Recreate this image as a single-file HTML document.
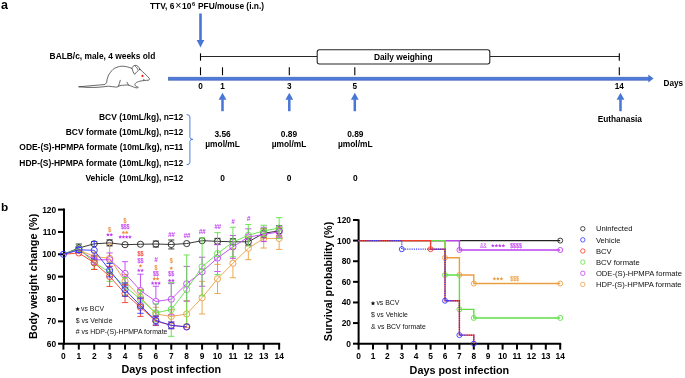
<!DOCTYPE html>
<html><head><meta charset="utf-8"><style>
html,body{margin:0;padding:0;background:#fff;}
body{width:685px;height:378px;overflow:hidden;}
svg{display:block;font-family:"Liberation Sans", sans-serif;will-change:transform;}
</style></head><body>
<svg width="685" height="378" viewBox="0 0 685 378">
<rect width="685" height="378" fill="#fff"/>
<text x="1.0" y="9.0" font-size="12.5" font-weight="bold" text-anchor="start" fill="#000" >a</text>
<text x="150" y="8.8" font-size="8.4" font-weight="bold">TTV, 6<tspan font-weight="normal" font-size="10.5" dx="0.9">×</tspan><tspan dx="0.6">10</tspan><tspan font-size="5.6" dy="-3" dx="0.6">6</tspan><tspan dy="3" dx="0.6"> PFU/mouse (i.n.)</tspan></text>
<rect x="199.2" y="13.5" width="2.6" height="27.0" fill="#4876d6"/>
<polygon points="196.7,40.0 204.3,40.0 200.5,47.4" fill="#4876d6"/>
<text x="49.6" y="59.3" font-size="8.4" font-weight="bold" text-anchor="start" fill="#000" >BALB/c, male, 4 weeks old</text>
<g fill="none" stroke="#2a2a2a" stroke-width="0.7" stroke-linejoin="round" stroke-linecap="round"><path fill="#fff" d="M79,86.8 C88,86 97,85.2 104,84.6 C105.5,84.2 106.3,83.5 106.6,82.6 C107,79 108,75 110.2,72.7 C112,70 114,68.2 116.1,67.6 C119,66.5 121,66.2 122,66.2 C125,66.2 128,66.8 132.1,68.5 C134,69.3 137,69 139.8,69.2 C143,72 147,75.5 149.6,78.8 C149.4,79.6 149,80.2 148.3,80.3 C146,80.2 143,80.6 139.8,81.2 C138,81.8 136.8,82.3 136.2,82.6 C135.3,83.5 134.7,84.3 134.8,84.8 C135.2,85.6 135.6,86.2 136.3,86.5 C137.2,86.8 138.2,87 138.3,87.3 C138,87.9 137,88 136,87.8 C135,87.5 134,87.2 133.5,87 C131,86 129.5,85.3 127.9,85 C125,85 123,85.2 121.2,85.4 L118.8,86 C118,86.5 117.5,86.9 117,87.1 C114,86.9 111,86.6 108.5,86.2 C104,86.8 100,87.2 96,87.4 C90,87.6 84,87.4 79,86.8 Z"/><path fill="#fff" d="M139.8,69.3 C138,70.5 136,72.5 134.7,74.4 C133.5,73 132.6,71 132.1,68.5 C132,67 133.5,65.6 135.1,65.4 C137,65.1 139,66.5 139.8,69.3 Z"/><path d="M135.3,66 C136.5,67 137.2,68 137.6,69.3"/><path d="M127,82.3 C127.5,83.3 128,84.2 128.5,85"/><path d="M120.3,80.3 C119.8,82.5 119,84.5 118.4,86.2"/><path d="M143.8,79.3 L144,80.3"/></g>
<circle cx="142.5" cy="75.9" r="1.1" fill="#ff1a1a"/>
<g stroke="#262626" stroke-width="1.1" fill="none"><line x1="200.5" y1="56.5" x2="317" y2="56.5"/><line x1="490" y1="56.5" x2="619.3" y2="56.5"/><rect x="317.2" y="49.8" width="172.6" height="14.2" rx="2.2" fill="#fff"/></g>
<g stroke="#000" stroke-width="1.1"><line x1="200.5" y1="53.3" x2="200.5" y2="60.7"/><line x1="619.3" y1="53.3" x2="619.3" y2="60.7"/></g>
<text x="403.2" y="59.5" font-size="8.4" font-weight="bold" text-anchor="middle" fill="#000" >Daily weighing</text>
<line x1="200.5" y1="67.3" x2="200.5" y2="75.2" stroke="#000" stroke-width="1.1"/>
<text x="200.5" y="89.4" font-size="8.2" font-weight="bold" text-anchor="middle" fill="#000" >0</text>
<line x1="222.5" y1="67.3" x2="222.5" y2="75.2" stroke="#000" stroke-width="1.1"/>
<text x="222.5" y="89.4" font-size="8.2" font-weight="bold" text-anchor="middle" fill="#000" >1</text>
<line x1="289.3" y1="67.3" x2="289.3" y2="75.2" stroke="#000" stroke-width="1.1"/>
<text x="289.3" y="89.4" font-size="8.2" font-weight="bold" text-anchor="middle" fill="#000" >3</text>
<line x1="354.8" y1="67.3" x2="354.8" y2="75.2" stroke="#000" stroke-width="1.1"/>
<text x="354.8" y="89.4" font-size="8.2" font-weight="bold" text-anchor="middle" fill="#000" >5</text>
<line x1="619.3" y1="67.3" x2="619.3" y2="75.2" stroke="#000" stroke-width="1.1"/>
<text x="619.3" y="89.4" font-size="8.2" font-weight="bold" text-anchor="middle" fill="#000" >14</text>
<rect x="168.4" y="77.2" width="480.6" height="3.0" fill="#4f7bdb" stroke="#3b5cab" stroke-width="0.6"/>
<polygon points="648.3,74.6 653.6,78.6 648.3,82.6" fill="#4876d6"/>
<text x="663.6" y="86.2" font-size="8.2" font-weight="bold" text-anchor="start" fill="#000" >Days</text>
<rect x="221.25" y="99.2" width="2.5" height="12.0" fill="#4876d6"/>
<polygon points="218.6,99.7 226.4,99.7 222.5,92.7" fill="#4876d6"/>
<rect x="288.05" y="99.2" width="2.5" height="12.0" fill="#4876d6"/>
<polygon points="285.40000000000003,99.7 293.2,99.7 289.3,92.7" fill="#4876d6"/>
<rect x="353.55" y="99.2" width="2.5" height="12.0" fill="#4876d6"/>
<polygon points="350.90000000000003,99.7 358.7,99.7 354.8,92.7" fill="#4876d6"/>
<rect x="619.25" y="99.2" width="2.5" height="12.0" fill="#4876d6"/>
<polygon points="616.6,99.7 624.4,99.7 620.5,92.7" fill="#4876d6"/>
<text x="619.8" y="121.8" font-size="8.3" font-weight="bold" text-anchor="middle" fill="#000" >Euthanasia</text>
<text x="183.2" y="120.0" font-size="8.45" font-weight="bold" text-anchor="end" fill="#000" >BCV (10mL/kg), n=12</text>
<text x="183.2" y="135.1" font-size="8.45" font-weight="bold" text-anchor="end" fill="#000" >BCV formate (10mL/kg), n=12</text>
<text x="183.2" y="150.4" font-size="8.45" font-weight="bold" text-anchor="end" fill="#000" >ODE-(S)-HPMPA formate (10mL/kg), n=11</text>
<text x="183.2" y="165.5" font-size="8.45" font-weight="bold" text-anchor="end" fill="#000" >HDP-(S)-HPMPA formate (10mL/kg), n=12</text>
<text x="183.2" y="180.5" font-size="8.45" font-weight="bold" text-anchor="end" fill="#000" >Vehicle&#160; (10mL/kg), n=12</text>
<path d="M186.6,114.6 Q189.9,114.6 189.9,117 L189.9,137.2 Q189.9,139.3 192.8,139.3 Q189.9,139.3 189.9,141.4 L189.9,162.3 Q189.9,164.7 186.6,164.7" stroke="#4876d6" stroke-width="0.95" fill="none"/>
<text x="222.6" y="137.2" font-size="8.4" font-weight="bold" text-anchor="middle" fill="#000" >3.56</text>
<text x="222.6" y="147.4" font-size="8.4" font-weight="bold" text-anchor="middle" fill="#000" >µmol/mL</text>
<text x="222.6" y="180.5" font-size="8.4" font-weight="bold" text-anchor="middle" fill="#000" >0</text>
<text x="289.0" y="137.2" font-size="8.4" font-weight="bold" text-anchor="middle" fill="#000" >0.89</text>
<text x="289.0" y="147.4" font-size="8.4" font-weight="bold" text-anchor="middle" fill="#000" >µmol/mL</text>
<text x="289.0" y="180.5" font-size="8.4" font-weight="bold" text-anchor="middle" fill="#000" >0</text>
<text x="355.3" y="137.2" font-size="8.4" font-weight="bold" text-anchor="middle" fill="#000" >0.89</text>
<text x="355.3" y="147.4" font-size="8.4" font-weight="bold" text-anchor="middle" fill="#000" >µmol/mL</text>
<text x="355.3" y="180.5" font-size="8.4" font-weight="bold" text-anchor="middle" fill="#000" >0</text>
<text x="1.0" y="211.4" font-size="11.8" font-weight="bold" text-anchor="start" fill="#000" >b</text>
<g stroke="#000" stroke-width="2" fill="none">
<line x1="64" y1="208.6" x2="64" y2="344.7"/>
<line x1="63" y1="343.7" x2="280.14" y2="343.7"/>
<line x1="58" y1="209.60" x2="64" y2="209.60"/>
<line x1="58" y1="231.95" x2="64" y2="231.95"/>
<line x1="58" y1="254.30" x2="64" y2="254.30"/>
<line x1="58" y1="276.65" x2="64" y2="276.65"/>
<line x1="58" y1="299.00" x2="64" y2="299.00"/>
<line x1="58" y1="321.35" x2="64" y2="321.35"/>
<line x1="58" y1="343.70" x2="64" y2="343.70"/>
<line x1="63.40" y1="343.7" x2="63.40" y2="349.6"/>
<line x1="78.81" y1="343.7" x2="78.81" y2="349.6"/>
<line x1="94.22" y1="343.7" x2="94.22" y2="349.6"/>
<line x1="109.63" y1="343.7" x2="109.63" y2="349.6"/>
<line x1="125.04" y1="343.7" x2="125.04" y2="349.6"/>
<line x1="140.45" y1="343.7" x2="140.45" y2="349.6"/>
<line x1="155.86" y1="343.7" x2="155.86" y2="349.6"/>
<line x1="171.27" y1="343.7" x2="171.27" y2="349.6"/>
<line x1="186.68" y1="343.7" x2="186.68" y2="349.6"/>
<line x1="202.09" y1="343.7" x2="202.09" y2="349.6"/>
<line x1="217.50" y1="343.7" x2="217.50" y2="349.6"/>
<line x1="232.91" y1="343.7" x2="232.91" y2="349.6"/>
<line x1="248.32" y1="343.7" x2="248.32" y2="349.6"/>
<line x1="263.73" y1="343.7" x2="263.73" y2="349.6"/>
<line x1="279.14" y1="343.7" x2="279.14" y2="349.6"/>
</g>
<text x="56.2" y="212.60000000000002" font-size="8.4" font-weight="bold" text-anchor="end" fill="#000" >120</text>
<text x="56.2" y="234.95000000000002" font-size="8.4" font-weight="bold" text-anchor="end" fill="#000" >110</text>
<text x="56.2" y="257.3" font-size="8.4" font-weight="bold" text-anchor="end" fill="#000" >100</text>
<text x="56.2" y="279.65000000000003" font-size="8.4" font-weight="bold" text-anchor="end" fill="#000" >90</text>
<text x="56.2" y="302.0" font-size="8.4" font-weight="bold" text-anchor="end" fill="#000" >80</text>
<text x="56.2" y="324.35" font-size="8.4" font-weight="bold" text-anchor="end" fill="#000" >70</text>
<text x="56.2" y="346.7" font-size="8.4" font-weight="bold" text-anchor="end" fill="#000" >60</text>
<text x="63.4" y="359.2" font-size="8.4" font-weight="bold" text-anchor="middle" fill="#000" >0</text>
<text x="78.81" y="359.2" font-size="8.4" font-weight="bold" text-anchor="middle" fill="#000" >1</text>
<text x="94.22" y="359.2" font-size="8.4" font-weight="bold" text-anchor="middle" fill="#000" >2</text>
<text x="109.63" y="359.2" font-size="8.4" font-weight="bold" text-anchor="middle" fill="#000" >3</text>
<text x="125.03999999999999" y="359.2" font-size="8.4" font-weight="bold" text-anchor="middle" fill="#000" >4</text>
<text x="140.45" y="359.2" font-size="8.4" font-weight="bold" text-anchor="middle" fill="#000" >5</text>
<text x="155.86" y="359.2" font-size="8.4" font-weight="bold" text-anchor="middle" fill="#000" >6</text>
<text x="171.27" y="359.2" font-size="8.4" font-weight="bold" text-anchor="middle" fill="#000" >7</text>
<text x="186.68" y="359.2" font-size="8.4" font-weight="bold" text-anchor="middle" fill="#000" >8</text>
<text x="202.09" y="359.2" font-size="8.4" font-weight="bold" text-anchor="middle" fill="#000" >9</text>
<text x="217.5" y="359.2" font-size="8.4" font-weight="bold" text-anchor="middle" fill="#000" >10</text>
<text x="232.91" y="359.2" font-size="8.4" font-weight="bold" text-anchor="middle" fill="#000" >11</text>
<text x="248.32000000000002" y="359.2" font-size="8.4" font-weight="bold" text-anchor="middle" fill="#000" >12</text>
<text x="263.73" y="359.2" font-size="8.4" font-weight="bold" text-anchor="middle" fill="#000" >13</text>
<text x="279.14" y="359.2" font-size="8.4" font-weight="bold" text-anchor="middle" fill="#000" >14</text>
<text x="0" y="0" font-size="10.85" font-weight="bold" text-anchor="middle" transform="translate(36.9,276.3) rotate(-90)">Body weight change (%)</text>
<text x="171.3" y="372.9" font-size="10.8" font-weight="bold" text-anchor="middle" fill="#000" >Days post infection</text>
<g fill="none" stroke-width="0.9">
<path d="M75.71,244.02h6.2M75.71,252.06h6.2M78.81,244.02V244.94M78.81,251.14V252.06" stroke="#222222"/>
<path d="M106.53,239.88h6.2M106.53,245.92h6.2" stroke="#222222"/>
<path d="M152.76,241.00h6.2M152.76,247.04h6.2" stroke="#222222"/>
<path d="M168.17,240.00h6.2M168.17,248.94h6.2M171.27,240.00V241.37M171.27,247.57V248.94" stroke="#222222"/>
<path d="M214.40,238.32h6.2M214.40,244.35h6.2" stroke="#222222"/>
<path d="M229.81,238.77h6.2M229.81,244.80h6.2" stroke="#222222"/>
<path d="M245.22,238.43h6.2M245.22,245.14h6.2M248.32,238.43V238.68M248.32,244.88V245.14" stroke="#222222"/>
<path d="M260.63,228.82h6.2M260.63,237.76h6.2M263.73,228.82V230.19M263.73,236.39V237.76" stroke="#222222"/>
<path d="M276.04,225.69h6.2M276.04,235.97h6.2M279.14,225.69V227.73M279.14,233.93V235.97" stroke="#222222"/>
<polyline points="63.40,254.30 78.81,248.04 94.22,243.80 109.63,242.90 125.04,244.69 140.45,244.24 155.86,244.02 171.27,244.47 186.68,243.57 202.09,240.67 217.50,241.34 232.91,241.78 248.32,241.78 263.73,233.29 279.14,230.83" stroke="#222222"/>
<circle cx="78.81" cy="248.04" r="3.1" stroke="#222222"/>
<circle cx="94.22" cy="243.80" r="3.1" stroke="#222222"/>
<circle cx="109.63" cy="242.90" r="3.1" stroke="#222222"/>
<circle cx="125.04" cy="244.69" r="3.1" stroke="#222222"/>
<circle cx="140.45" cy="244.24" r="3.1" stroke="#222222"/>
<circle cx="155.86" cy="244.02" r="3.1" stroke="#222222"/>
<circle cx="171.27" cy="244.47" r="3.1" stroke="#222222"/>
<circle cx="186.68" cy="243.57" r="3.1" stroke="#222222"/>
<circle cx="202.09" cy="240.67" r="3.1" stroke="#222222"/>
<circle cx="217.50" cy="241.34" r="3.1" stroke="#222222"/>
<circle cx="232.91" cy="241.78" r="3.1" stroke="#222222"/>
<circle cx="248.32" cy="241.78" r="3.1" stroke="#222222"/>
<circle cx="263.73" cy="233.29" r="3.1" stroke="#222222"/>
<circle cx="279.14" cy="230.83" r="3.1" stroke="#222222"/>
<path d="M75.71,247.15h6.2M75.71,252.51h6.2" stroke="#eb9e42"/>
<path d="M91.12,252.06h6.2M91.12,261.00h6.2M94.22,252.06V253.44M94.22,259.64V261.00" stroke="#eb9e42"/>
<path d="M106.53,244.24h6.2M106.53,272.40h6.2M109.63,244.24V255.22M109.63,261.42V272.40" stroke="#eb9e42"/>
<path d="M121.94,274.42h6.2M121.94,287.82h6.2M125.04,274.42V278.02M125.04,284.22V287.82" stroke="#eb9e42"/>
<path d="M137.35,289.39h6.2M137.35,305.03h6.2M140.45,289.39V294.11M140.45,300.31V305.03" stroke="#eb9e42"/>
<path d="M152.76,307.27h6.2M152.76,320.68h6.2M155.86,307.27V310.87M155.86,317.07V320.68" stroke="#eb9e42"/>
<path d="M168.17,309.73h6.2M168.17,323.14h6.2M171.27,309.73V313.33M171.27,319.53V323.14" stroke="#eb9e42"/>
<path d="M183.58,300.56h6.2M183.58,327.38h6.2M186.68,300.56V310.87M186.68,317.07V327.38" stroke="#eb9e42"/>
<path d="M198.99,281.34h6.2M198.99,313.97h6.2M202.09,281.34V294.56M202.09,300.76V313.97" stroke="#eb9e42"/>
<path d="M214.40,264.36h6.2M214.40,293.41h6.2M217.50,264.36V275.78M217.50,281.99V293.41" stroke="#eb9e42"/>
<path d="M229.81,248.71h6.2M229.81,277.77h6.2M232.91,248.71V260.14M232.91,266.34V277.77" stroke="#eb9e42"/>
<path d="M245.22,236.87h6.2M245.22,259.66h6.2M248.32,236.87V245.17M248.32,251.37V259.66" stroke="#eb9e42"/>
<path d="M260.63,228.82h6.2M260.63,248.04h6.2M263.73,228.82V235.33M263.73,241.53V248.04" stroke="#eb9e42"/>
<path d="M276.04,227.48h6.2M276.04,249.38h6.2M279.14,227.48V235.33M279.14,241.53V249.38" stroke="#eb9e42"/>
<polyline points="63.40,254.30 78.81,249.83 94.22,256.54 109.63,258.32 125.04,281.12 140.45,297.21 155.86,313.97 171.27,316.43 186.68,313.97 202.09,297.66 217.50,278.88 232.91,263.24 248.32,248.27 263.73,238.43 279.14,238.43" stroke="#eb9e42"/>
<circle cx="78.81" cy="249.83" r="3.1" stroke="#eb9e42"/>
<circle cx="94.22" cy="256.54" r="3.1" stroke="#eb9e42"/>
<circle cx="109.63" cy="258.32" r="3.1" stroke="#eb9e42"/>
<circle cx="125.04" cy="281.12" r="3.1" stroke="#eb9e42"/>
<circle cx="140.45" cy="297.21" r="3.1" stroke="#eb9e42"/>
<circle cx="155.86" cy="313.97" r="3.1" stroke="#eb9e42"/>
<circle cx="171.27" cy="316.43" r="3.1" stroke="#eb9e42"/>
<circle cx="186.68" cy="313.97" r="3.1" stroke="#eb9e42"/>
<circle cx="202.09" cy="297.66" r="3.1" stroke="#eb9e42"/>
<circle cx="217.50" cy="278.88" r="3.1" stroke="#eb9e42"/>
<circle cx="232.91" cy="263.24" r="3.1" stroke="#eb9e42"/>
<circle cx="248.32" cy="248.27" r="3.1" stroke="#eb9e42"/>
<circle cx="263.73" cy="238.43" r="3.1" stroke="#eb9e42"/>
<circle cx="279.14" cy="238.43" r="3.1" stroke="#eb9e42"/>
<path d="M91.12,255.42h6.2M91.12,264.36h6.2M94.22,255.42V256.79M94.22,262.99V264.36" stroke="#c040f2"/>
<path d="M106.53,252.96h6.2M106.53,266.37h6.2M109.63,252.96V256.56M109.63,262.76V266.37" stroke="#c040f2"/>
<path d="M121.94,261.68h6.2M121.94,285.37h6.2M125.04,261.68V270.42M125.04,276.62V285.37" stroke="#c040f2"/>
<path d="M137.35,274.19h6.2M137.35,306.82h6.2M140.45,274.19V287.41M140.45,293.61V306.82" stroke="#c040f2"/>
<path d="M152.76,286.26h6.2M152.76,316.66h6.2M155.86,286.26V298.36M155.86,304.56V316.66" stroke="#c040f2"/>
<path d="M168.17,283.58h6.2M168.17,314.87h6.2M171.27,283.58V296.12M171.27,302.32V314.87" stroke="#c040f2"/>
<path d="M183.58,266.37h6.2M183.58,301.24h6.2M186.68,266.37V280.70M186.68,286.90V301.24" stroke="#c040f2"/>
<path d="M198.99,257.21h6.2M198.99,286.26h6.2M202.09,257.21V268.63M202.09,274.83V286.26" stroke="#c040f2"/>
<path d="M214.40,244.69h6.2M214.40,271.51h6.2M217.50,244.69V255.00M217.50,261.20V271.51" stroke="#c040f2"/>
<path d="M229.81,235.53h6.2M229.81,258.32h6.2M232.91,235.53V243.82M232.91,250.02V258.32" stroke="#c040f2"/>
<path d="M245.22,228.82h6.2M245.22,245.36h6.2M248.32,228.82V233.99M248.32,240.19V245.36" stroke="#c040f2"/>
<path d="M260.63,227.26h6.2M260.63,241.56h6.2M263.73,227.26V231.31M263.73,237.51V241.56" stroke="#c040f2"/>
<path d="M276.04,226.14h6.2M276.04,237.76h6.2M279.14,226.14V228.85M279.14,235.05V237.76" stroke="#c040f2"/>
<polyline points="63.40,254.30 78.81,249.83 94.22,259.89 109.63,259.66 125.04,273.52 140.45,290.51 155.86,301.46 171.27,299.22 186.68,283.80 202.09,271.73 217.50,258.10 232.91,246.92 248.32,237.09 263.73,234.41 279.14,231.95" stroke="#c040f2"/>
<circle cx="78.81" cy="249.83" r="3.1" stroke="#c040f2"/>
<circle cx="94.22" cy="259.89" r="3.1" stroke="#c040f2"/>
<circle cx="109.63" cy="259.66" r="3.1" stroke="#c040f2"/>
<circle cx="125.04" cy="273.52" r="3.1" stroke="#c040f2"/>
<circle cx="140.45" cy="290.51" r="3.1" stroke="#c040f2"/>
<circle cx="155.86" cy="301.46" r="3.1" stroke="#c040f2"/>
<circle cx="171.27" cy="299.22" r="3.1" stroke="#c040f2"/>
<circle cx="186.68" cy="283.80" r="3.1" stroke="#c040f2"/>
<circle cx="202.09" cy="271.73" r="3.1" stroke="#c040f2"/>
<circle cx="217.50" cy="258.10" r="3.1" stroke="#c040f2"/>
<circle cx="232.91" cy="246.92" r="3.1" stroke="#c040f2"/>
<circle cx="248.32" cy="237.09" r="3.1" stroke="#c040f2"/>
<circle cx="263.73" cy="234.41" r="3.1" stroke="#c040f2"/>
<circle cx="279.14" cy="231.95" r="3.1" stroke="#c040f2"/>
<path d="M91.12,255.86h6.2M91.12,269.27h6.2M94.22,255.86V259.47M94.22,265.67V269.27" stroke="#5fe045"/>
<path d="M106.53,263.02h6.2M106.53,281.34h6.2M109.63,263.02V269.08M109.63,275.28V281.34" stroke="#5fe045"/>
<path d="M121.94,277.54h6.2M121.94,295.42h6.2M125.04,277.54V283.38M125.04,289.58V295.42" stroke="#5fe045"/>
<path d="M137.35,290.28h6.2M137.35,308.16h6.2M140.45,290.28V296.12M140.45,302.32V308.16" stroke="#5fe045"/>
<path d="M152.76,303.92h6.2M152.76,321.80h6.2M155.86,303.92V309.76M155.86,315.96V321.80" stroke="#5fe045"/>
<path d="M168.17,282.68h6.2M168.17,336.32h6.2M171.27,282.68V306.40M171.27,312.60V336.32" stroke="#5fe045"/>
<path d="M183.58,254.97h6.2M183.58,324.26h6.2M186.68,254.97V286.51M186.68,292.71V324.26" stroke="#5fe045"/>
<path d="M198.99,237.76h6.2M198.99,295.87h6.2M202.09,237.76V263.72M202.09,269.92V295.87" stroke="#5fe045"/>
<path d="M214.40,232.62h6.2M214.40,274.64h6.2M217.50,232.62V250.53M217.50,256.73V274.64" stroke="#5fe045"/>
<path d="M229.81,227.26h6.2M229.81,256.76h6.2M232.91,227.26V238.91M232.91,245.11V256.76" stroke="#5fe045"/>
<path d="M245.22,224.57h6.2M245.22,246.03h6.2M248.32,224.57V232.20M248.32,238.40V246.03" stroke="#5fe045"/>
<path d="M260.63,225.25h6.2M260.63,236.42h6.2M263.73,225.25V227.73M263.73,233.93V236.42" stroke="#5fe045"/>
<path d="M276.04,217.65h6.2M276.04,238.66h6.2M279.14,217.65V225.05M279.14,231.25V238.66" stroke="#5fe045"/>
<polyline points="63.40,254.30 78.81,248.71 94.22,262.57 109.63,272.18 125.04,286.48 140.45,299.22 155.86,312.86 171.27,309.50 186.68,289.61 202.09,266.82 217.50,253.63 232.91,242.01 248.32,235.30 263.73,230.83 279.14,228.15" stroke="#5fe045"/>
<circle cx="78.81" cy="248.71" r="3.1" stroke="#5fe045"/>
<circle cx="94.22" cy="262.57" r="3.1" stroke="#5fe045"/>
<circle cx="109.63" cy="272.18" r="3.1" stroke="#5fe045"/>
<circle cx="125.04" cy="286.48" r="3.1" stroke="#5fe045"/>
<circle cx="140.45" cy="299.22" r="3.1" stroke="#5fe045"/>
<circle cx="155.86" cy="312.86" r="3.1" stroke="#5fe045"/>
<circle cx="171.27" cy="309.50" r="3.1" stroke="#5fe045"/>
<circle cx="186.68" cy="289.61" r="3.1" stroke="#5fe045"/>
<circle cx="202.09" cy="266.82" r="3.1" stroke="#5fe045"/>
<circle cx="217.50" cy="253.63" r="3.1" stroke="#5fe045"/>
<circle cx="232.91" cy="242.01" r="3.1" stroke="#5fe045"/>
<circle cx="248.32" cy="235.30" r="3.1" stroke="#5fe045"/>
<circle cx="263.73" cy="230.83" r="3.1" stroke="#5fe045"/>
<circle cx="279.14" cy="228.15" r="3.1" stroke="#5fe045"/>
<path d="M91.12,256.09h6.2M91.12,269.50h6.2M94.22,256.09V259.69M94.22,265.89V269.50" stroke="#f23c2c"/>
<path d="M106.53,266.37h6.2M106.53,286.48h6.2M109.63,266.37V273.33M109.63,279.53V286.48" stroke="#f23c2c"/>
<path d="M121.94,284.70h6.2M121.94,302.58h6.2M125.04,284.70V290.54M125.04,296.74V302.58" stroke="#f23c2c"/>
<path d="M137.35,298.11h6.2M137.35,316.43h6.2M140.45,298.11V304.17M140.45,310.37V316.43" stroke="#f23c2c"/>
<path d="M152.76,316.66h6.2M152.76,325.60h6.2M155.86,316.66V318.03M155.86,324.23V325.60" stroke="#f23c2c"/>
<path d="M168.17,322.02h6.2M168.17,328.73h6.2M171.27,322.02V322.27M171.27,328.47V328.73" stroke="#f23c2c"/>
<polyline points="63.40,254.30 78.81,252.96 94.22,262.79 109.63,276.43 125.04,293.64 140.45,307.27 155.86,321.13 171.27,325.37 186.68,326.71" stroke="#f23c2c"/>
<circle cx="78.81" cy="252.96" r="3.1" stroke="#f23c2c"/>
<circle cx="94.22" cy="262.79" r="3.1" stroke="#f23c2c"/>
<circle cx="109.63" cy="276.43" r="3.1" stroke="#f23c2c"/>
<circle cx="125.04" cy="293.64" r="3.1" stroke="#f23c2c"/>
<circle cx="140.45" cy="307.27" r="3.1" stroke="#f23c2c"/>
<circle cx="155.86" cy="321.13" r="3.1" stroke="#f23c2c"/>
<circle cx="171.27" cy="325.37" r="3.1" stroke="#f23c2c"/>
<circle cx="186.68" cy="326.71" r="3.1" stroke="#f23c2c"/>
<path d="M75.71,247.15h6.2M75.71,252.51h6.2" stroke="#3333ff"/>
<path d="M91.12,241.56h6.2M91.12,258.99h6.2M94.22,241.56V247.18M94.22,253.38V258.99" stroke="#3333ff"/>
<path d="M106.53,263.46h6.2M106.53,276.87h6.2M109.63,263.46V267.07M109.63,273.27V276.87" stroke="#3333ff"/>
<path d="M121.94,282.91h6.2M121.94,296.32h6.2M125.04,282.91V286.51M125.04,292.71V296.32" stroke="#3333ff"/>
<path d="M137.35,298.11h6.2M137.35,313.30h6.2M140.45,298.11V302.60M140.45,308.81V313.30" stroke="#3333ff"/>
<path d="M152.76,315.99h6.2M152.76,324.93h6.2M155.86,315.99V317.36M155.86,323.56V324.93" stroke="#3333ff"/>
<path d="M168.17,322.02h6.2M168.17,328.73h6.2M171.27,322.02V322.27M171.27,328.47V328.73" stroke="#3333ff"/>
<polyline points="63.40,254.30 78.81,249.83 94.22,250.28 109.63,270.17 125.04,289.61 140.45,305.70 155.86,320.46 171.27,325.37 186.68,326.94" stroke="#3333ff"/>
<circle cx="63.40" cy="254.30" r="3.1" stroke="#3333ff"/>
<circle cx="78.81" cy="249.83" r="3.1" stroke="#3333ff"/>
<circle cx="94.22" cy="250.28" r="3.1" stroke="#3333ff"/>
<circle cx="109.63" cy="270.17" r="3.1" stroke="#3333ff"/>
<circle cx="125.04" cy="289.61" r="3.1" stroke="#3333ff"/>
<circle cx="140.45" cy="305.70" r="3.1" stroke="#3333ff"/>
<circle cx="155.86" cy="320.46" r="3.1" stroke="#3333ff"/>
<circle cx="171.27" cy="325.37" r="3.1" stroke="#3333ff"/>
<circle cx="186.68" cy="326.94" r="3.1" stroke="#3333ff"/>
</g>
<text x="108.18" y="232.00" font-size="6.9" fill="#ee8a38" stroke="#ee8a38" stroke-width="0.2" textLength="2.90" lengthAdjust="spacingAndGlyphs">$</text>
<polygon points="108.00,232.75 108.56,233.94 109.86,234.10 108.90,234.99 109.15,236.28 108.00,235.64 106.86,236.28 107.11,234.99 106.15,234.10 107.45,233.94" fill="#c040f2"/>
<polygon points="111.25,232.75 111.81,233.94 113.11,234.10 112.15,234.99 112.40,236.28 111.25,235.64 110.11,236.28 110.36,234.99 109.40,234.10 110.70,233.94" fill="#c040f2"/>
<text x="123.59" y="223.20" font-size="6.9" fill="#ee8a38" stroke="#ee8a38" stroke-width="0.2" textLength="2.90" lengthAdjust="spacingAndGlyphs">$</text>
<text x="120.69" y="228.60" font-size="6.9" fill="#c040f2" stroke="#c040f2" stroke-width="0.2" textLength="8.70" lengthAdjust="spacingAndGlyphs">$$$</text>
<polygon points="123.41,230.55 123.97,231.74 125.27,231.90 124.31,232.79 124.56,234.08 123.41,233.44 122.27,234.08 122.52,232.79 121.56,231.90 122.86,231.74" fill="#ee8a38"/>
<polygon points="126.66,230.55 127.22,231.74 128.52,231.90 127.56,232.79 127.81,234.08 126.66,233.44 125.52,234.08 125.77,232.79 124.81,231.90 126.11,231.74" fill="#ee8a38"/>
<polygon points="120.16,235.05 120.72,236.24 122.02,236.40 121.06,237.29 121.31,238.58 120.16,237.94 119.02,238.58 119.27,237.29 118.31,236.40 119.61,236.24" fill="#c040f2"/>
<polygon points="123.41,235.05 123.97,236.24 125.27,236.40 124.31,237.29 124.56,238.58 123.41,237.94 122.27,238.58 122.52,237.29 121.56,236.40 122.86,236.24" fill="#c040f2"/>
<polygon points="126.66,235.05 127.22,236.24 128.52,236.40 127.56,237.29 127.81,238.58 126.66,237.94 125.52,238.58 125.77,237.29 124.81,236.40 126.11,236.24" fill="#c040f2"/>
<polygon points="129.91,235.05 130.47,236.24 131.77,236.40 130.81,237.29 131.06,238.58 129.91,237.94 128.77,238.58 129.02,237.29 128.06,236.40 129.36,236.24" fill="#c040f2"/>
<text x="137.55" y="256.20" font-size="6.9" fill="#f23c2c" stroke="#f23c2c" stroke-width="0.2" textLength="5.80" lengthAdjust="spacingAndGlyphs">$$</text>
<text x="137.55" y="262.80" font-size="6.9" fill="#c040f2" stroke="#c040f2" stroke-width="0.2" textLength="5.80" lengthAdjust="spacingAndGlyphs">$$</text>
<polygon points="140.45,264.05 141.00,265.24 142.30,265.40 141.34,266.29 141.60,267.58 140.45,266.94 139.30,267.58 139.56,266.29 138.60,265.40 139.90,265.24" fill="#ee8a38"/>
<polygon points="138.82,268.45 139.38,269.64 140.68,269.80 139.72,270.69 139.97,271.98 138.82,271.34 137.68,271.98 137.93,270.69 136.97,269.80 138.27,269.64" fill="#c040f2"/>
<polygon points="142.07,268.45 142.63,269.64 143.93,269.80 142.97,270.69 143.22,271.98 142.07,271.34 140.93,271.98 141.18,270.69 140.22,269.80 141.52,269.64" fill="#c040f2"/>
<text x="155.86" y="262.10" font-size="6.4" font-weight="bold" font-style="italic" text-anchor="middle" fill="#c040f2" letter-spacing="-0.3">#</text>
<text x="154.41" y="269.60" font-size="6.9" fill="#ee8a38" stroke="#ee8a38" stroke-width="0.2" textLength="2.90" lengthAdjust="spacingAndGlyphs">$</text>
<text x="152.96" y="276.00" font-size="6.9" fill="#c040f2" stroke="#c040f2" stroke-width="0.2" textLength="5.80" lengthAdjust="spacingAndGlyphs">$$</text>
<polygon points="154.24,276.85 154.79,278.04 156.09,278.20 155.13,279.09 155.38,280.38 154.24,279.74 153.09,280.38 153.34,279.09 152.38,278.20 153.68,278.04" fill="#ee8a38"/>
<polygon points="157.49,276.85 158.04,278.04 159.34,278.20 158.38,279.09 158.63,280.38 157.49,279.74 156.34,280.38 156.59,279.09 155.63,278.20 156.93,278.04" fill="#ee8a38"/>
<polygon points="152.61,281.25 153.16,282.44 154.46,282.60 153.50,283.49 153.76,284.78 152.61,284.14 151.46,284.78 151.72,283.49 150.76,282.60 152.06,282.44" fill="#c040f2"/>
<polygon points="155.86,281.25 156.41,282.44 157.71,282.60 156.75,283.49 157.01,284.78 155.86,284.14 154.71,284.78 154.97,283.49 154.01,282.60 155.31,282.44" fill="#c040f2"/>
<polygon points="159.11,281.25 159.66,282.44 160.96,282.60 160.00,283.49 160.26,284.78 159.11,284.14 157.96,284.78 158.22,283.49 157.26,282.60 158.56,282.44" fill="#c040f2"/>
<text x="171.27" y="237.30" font-size="6.4" font-weight="bold" font-style="italic" text-anchor="middle" fill="#c040f2" letter-spacing="-0.3">##</text>
<text x="169.82" y="263.40" font-size="6.9" fill="#ee8a38" stroke="#ee8a38" stroke-width="0.2" textLength="2.90" lengthAdjust="spacingAndGlyphs">$</text>
<polygon points="171.27,266.25 171.82,267.44 173.12,267.60 172.16,268.49 172.42,269.78 171.27,269.14 170.12,269.78 170.38,268.49 169.42,267.60 170.72,267.44" fill="#ee8a38"/>
<text x="168.37" y="276.20" font-size="6.9" fill="#c040f2" stroke="#c040f2" stroke-width="0.2" textLength="5.80" lengthAdjust="spacingAndGlyphs">$$</text>
<polygon points="169.65,278.65 170.20,279.84 171.50,280.00 170.54,280.89 170.79,282.18 169.65,281.54 168.50,282.18 168.75,280.89 167.79,280.00 169.09,279.84" fill="#c040f2"/>
<polygon points="172.90,278.65 173.45,279.84 174.75,280.00 173.79,280.89 174.04,282.18 172.90,281.54 171.75,282.18 172.00,280.89 171.04,280.00 172.34,279.84" fill="#c040f2"/>
<text x="186.68" y="238.10" font-size="6.4" font-weight="bold" font-style="italic" text-anchor="middle" fill="#c040f2" letter-spacing="-0.3">##</text>
<text x="202.09" y="233.70" font-size="6.4" font-weight="bold" font-style="italic" text-anchor="middle" fill="#c040f2" letter-spacing="-0.3">##</text>
<text x="217.50" y="228.50" font-size="6.4" font-weight="bold" font-style="italic" text-anchor="middle" fill="#c040f2" letter-spacing="-0.3">##</text>
<text x="232.91" y="224.30" font-size="6.4" font-weight="bold" font-style="italic" text-anchor="middle" fill="#c040f2" letter-spacing="-0.3">#</text>
<text x="248.32" y="220.90" font-size="6.4" font-weight="bold" font-style="italic" text-anchor="middle" fill="#c040f2" letter-spacing="-0.3">#</text>
<polygon points="77.60,306.80 78.25,308.21 79.79,308.39 78.65,309.44 78.95,310.96 77.60,310.20 76.25,310.96 76.55,309.44 75.41,308.39 76.95,308.21" fill="#111"/>
<text x="81.0" y="311.4" font-size="6.9" font-weight="normal" text-anchor="start" fill="#111" >vs BCV</text>
<text x="75.7" y="322.8" font-size="6.9" font-weight="normal" text-anchor="start" fill="#111" >$ vs Vehicle</text>
<text x="75.7" y="333.7" font-size="6.9" font-weight="normal" text-anchor="start" fill="#111" ># vs HDP-(S)-HPMPA formate</text>
<g stroke="#000" stroke-width="2" fill="none">
<line x1="358.6" y1="219.38" x2="358.6" y2="344.7"/>
<line x1="357.6" y1="343.7" x2="561.20" y2="343.7"/>
<line x1="353" y1="343.70" x2="358.6" y2="343.70"/>
<line x1="353" y1="323.08" x2="358.6" y2="323.08"/>
<line x1="353" y1="302.46" x2="358.6" y2="302.46"/>
<line x1="353" y1="281.84" x2="358.6" y2="281.84"/>
<line x1="353" y1="261.22" x2="358.6" y2="261.22"/>
<line x1="353" y1="240.60" x2="358.6" y2="240.60"/>
<line x1="353" y1="219.98" x2="358.6" y2="219.98"/>
<line x1="358.60" y1="343.7" x2="358.60" y2="349.6"/>
<line x1="373.00" y1="343.7" x2="373.00" y2="349.6"/>
<line x1="387.40" y1="343.7" x2="387.40" y2="349.6"/>
<line x1="401.80" y1="343.7" x2="401.80" y2="349.6"/>
<line x1="416.20" y1="343.7" x2="416.20" y2="349.6"/>
<line x1="430.60" y1="343.7" x2="430.60" y2="349.6"/>
<line x1="445.00" y1="343.7" x2="445.00" y2="349.6"/>
<line x1="459.40" y1="343.7" x2="459.40" y2="349.6"/>
<line x1="473.80" y1="343.7" x2="473.80" y2="349.6"/>
<line x1="488.20" y1="343.7" x2="488.20" y2="349.6"/>
<line x1="502.60" y1="343.7" x2="502.60" y2="349.6"/>
<line x1="517.00" y1="343.7" x2="517.00" y2="349.6"/>
<line x1="531.40" y1="343.7" x2="531.40" y2="349.6"/>
<line x1="545.80" y1="343.7" x2="545.80" y2="349.6"/>
<line x1="560.20" y1="343.7" x2="560.20" y2="349.6"/>
</g>
<text x="351.0" y="346.7" font-size="8.4" font-weight="bold" text-anchor="end" fill="#000" >0</text>
<text x="351.0" y="326.08" font-size="8.4" font-weight="bold" text-anchor="end" fill="#000" >20</text>
<text x="351.0" y="305.46" font-size="8.4" font-weight="bold" text-anchor="end" fill="#000" >40</text>
<text x="351.0" y="284.84" font-size="8.4" font-weight="bold" text-anchor="end" fill="#000" >60</text>
<text x="351.0" y="264.22" font-size="8.4" font-weight="bold" text-anchor="end" fill="#000" >80</text>
<text x="351.0" y="243.6" font-size="8.4" font-weight="bold" text-anchor="end" fill="#000" >100</text>
<text x="351.0" y="222.98000000000002" font-size="8.4" font-weight="bold" text-anchor="end" fill="#000" >120</text>
<text x="358.6" y="359.2" font-size="8.4" font-weight="bold" text-anchor="middle" fill="#000" >0</text>
<text x="373.0" y="359.2" font-size="8.4" font-weight="bold" text-anchor="middle" fill="#000" >1</text>
<text x="387.40000000000003" y="359.2" font-size="8.4" font-weight="bold" text-anchor="middle" fill="#000" >2</text>
<text x="401.8" y="359.2" font-size="8.4" font-weight="bold" text-anchor="middle" fill="#000" >3</text>
<text x="416.20000000000005" y="359.2" font-size="8.4" font-weight="bold" text-anchor="middle" fill="#000" >4</text>
<text x="430.6" y="359.2" font-size="8.4" font-weight="bold" text-anchor="middle" fill="#000" >5</text>
<text x="445.0" y="359.2" font-size="8.4" font-weight="bold" text-anchor="middle" fill="#000" >6</text>
<text x="459.40000000000003" y="359.2" font-size="8.4" font-weight="bold" text-anchor="middle" fill="#000" >7</text>
<text x="473.8" y="359.2" font-size="8.4" font-weight="bold" text-anchor="middle" fill="#000" >8</text>
<text x="488.20000000000005" y="359.2" font-size="8.4" font-weight="bold" text-anchor="middle" fill="#000" >9</text>
<text x="502.6" y="359.2" font-size="8.4" font-weight="bold" text-anchor="middle" fill="#000" >10</text>
<text x="517.0" y="359.2" font-size="8.4" font-weight="bold" text-anchor="middle" fill="#000" >11</text>
<text x="531.4000000000001" y="359.2" font-size="8.4" font-weight="bold" text-anchor="middle" fill="#000" >12</text>
<text x="545.8000000000001" y="359.2" font-size="8.4" font-weight="bold" text-anchor="middle" fill="#000" >13</text>
<text x="560.2" y="359.2" font-size="8.4" font-weight="bold" text-anchor="middle" fill="#000" >14</text>
<text x="0" y="0" font-size="10.75" font-weight="bold" text-anchor="middle" transform="translate(332.0,281.5) rotate(-90)">Survival probability (%)</text>
<text x="459.4" y="373.7" font-size="10.8" font-weight="bold" text-anchor="middle" fill="#000" >Days post infection</text>
<g fill="none">
<path d="M358.60,240.60H560.20V240.60" stroke="#222222" stroke-width="1.4"/>
<circle cx="560.20" cy="240.60" r="2.5" stroke="#222222" stroke-width="0.9"/>
<path d="M358.60,240.60H445.00V257.79H459.40V274.96H473.80V283.56H560.20V283.56" stroke="#eb9e42" stroke-width="1.4"/>
<circle cx="445.00" cy="257.79" r="2.5" stroke="#eb9e42" stroke-width="0.9"/>
<circle cx="459.40" cy="274.96" r="2.5" stroke="#eb9e42" stroke-width="0.9"/>
<circle cx="473.80" cy="283.56" r="2.5" stroke="#eb9e42" stroke-width="0.9"/>
<circle cx="560.20" cy="283.56" r="2.5" stroke="#eb9e42" stroke-width="0.9"/>
<path d="M358.60,240.60H459.40V249.97H560.20V249.97" stroke="#c040f2" stroke-width="1.4"/>
<circle cx="459.40" cy="249.97" r="2.5" stroke="#c040f2" stroke-width="0.9"/>
<circle cx="560.20" cy="249.97" r="2.5" stroke="#c040f2" stroke-width="0.9"/>
<path d="M358.60,240.60H445.00V274.96H459.40V309.34H473.80V317.93H560.20V317.93" stroke="#5fe045" stroke-width="1.4"/>
<circle cx="445.00" cy="274.96" r="2.5" stroke="#5fe045" stroke-width="0.9"/>
<circle cx="459.40" cy="309.34" r="2.5" stroke="#5fe045" stroke-width="0.9"/>
<circle cx="473.80" cy="317.93" r="2.5" stroke="#5fe045" stroke-width="0.9"/>
<circle cx="560.20" cy="317.93" r="2.5" stroke="#5fe045" stroke-width="0.9"/>
<path d="M358.60,240.60H430.60V249.19H445.00V300.74H459.40V335.11H473.80V343.70" stroke="#f23c2c" stroke-width="1.4"/>
<circle cx="430.60" cy="249.19" r="2.5" stroke="#f23c2c" stroke-width="0.9"/>
<path d="M358.60,240.60H401.80V249.19H445.00V300.74H459.40V335.11H473.80V343.70" stroke="#3333ff" stroke-width="1.3" stroke-dasharray="1.1 1.1"/>
<circle cx="401.80" cy="249.19" r="2.5" stroke="#3333ff" stroke-width="0.9"/>
<circle cx="445.00" cy="300.74" r="2.5" stroke="#3333ff" stroke-width="0.9"/>
<circle cx="459.40" cy="335.11" r="2.5" stroke="#3333ff" stroke-width="0.9"/>
<circle cx="473.80" cy="343.70" r="2.5" stroke="#3333ff" stroke-width="0.9"/>
</g>
<text x="479.9" y="247.9" font-size="6.9" fill="#c040f2" textLength="6.9" lengthAdjust="spacingAndGlyphs">&amp;&amp;</text>
<polygon points="492.85,243.75 493.40,244.94 494.70,245.10 493.74,245.99 494.00,247.28 492.85,246.64 491.70,247.28 491.96,245.99 491.00,245.10 492.30,244.94" fill="#c040f2"/>
<polygon points="496.35,243.75 496.90,244.94 498.20,245.10 497.24,245.99 497.50,247.28 496.35,246.64 495.20,247.28 495.46,245.99 494.50,245.10 495.80,244.94" fill="#c040f2"/>
<polygon points="499.85,243.75 500.40,244.94 501.70,245.10 500.74,245.99 501.00,247.28 499.85,246.64 498.70,247.28 498.96,245.99 498.00,245.10 499.30,244.94" fill="#c040f2"/>
<polygon points="503.35,243.75 503.90,244.94 505.20,245.10 504.24,245.99 504.50,247.28 503.35,246.64 502.20,247.28 502.46,245.99 501.50,245.10 502.80,244.94" fill="#c040f2"/>
<text x="510.20" y="247.90" font-size="6.9" fill="#c040f2" stroke="#c040f2" stroke-width="0.2" textLength="11.60" lengthAdjust="spacingAndGlyphs">$$$$</text>
<polygon points="494.40,276.85 494.95,278.04 496.25,278.20 495.29,279.09 495.55,280.38 494.40,279.74 493.25,280.38 493.51,279.09 492.55,278.20 493.85,278.04" fill="#eb9e42"/>
<polygon points="497.90,276.85 498.45,278.04 499.75,278.20 498.79,279.09 499.05,280.38 497.90,279.74 496.75,280.38 497.01,279.09 496.05,278.20 497.35,278.04" fill="#eb9e42"/>
<polygon points="501.40,276.85 501.95,278.04 503.25,278.20 502.29,279.09 502.55,280.38 501.40,279.74 500.25,280.38 500.51,279.09 499.55,278.20 500.85,278.04" fill="#eb9e42"/>
<text x="510.25" y="281.00" font-size="6.9" fill="#eb9e42" stroke="#eb9e42" stroke-width="0.2" textLength="8.70" lengthAdjust="spacingAndGlyphs">$$$</text>
<polygon points="373.00,301.00 373.65,302.41 375.19,302.59 374.05,303.64 374.35,305.16 373.00,304.40 371.65,305.16 371.95,303.64 370.81,302.59 372.35,302.41" fill="#111"/>
<text x="376.4" y="305.4" font-size="6.9" font-weight="normal" text-anchor="start" fill="#111" >vs BCV</text>
<text x="371.1" y="317.4" font-size="6.9" font-weight="normal" text-anchor="start" fill="#111" >$ vs Vehicle</text>
<text x="371.1" y="328.5" font-size="6.9" font-weight="normal" text-anchor="start" fill="#111" >&amp; vs BCV formate</text>
<circle cx="582.8" cy="228.70" r="2.2" fill="none" stroke="#222222" stroke-width="0.8"/>
<text x="595.9" y="231.39999999999998" font-size="7.65" font-weight="normal" text-anchor="start" fill="#111" >Uninfected</text>
<circle cx="582.8" cy="239.84" r="2.2" fill="none" stroke="#3333ff" stroke-width="0.8"/>
<text x="595.9" y="242.53999999999996" font-size="7.65" font-weight="normal" text-anchor="start" fill="#111" >Vehicle</text>
<circle cx="582.8" cy="250.98" r="2.2" fill="none" stroke="#f23c2c" stroke-width="0.8"/>
<text x="595.9" y="253.67999999999998" font-size="7.65" font-weight="normal" text-anchor="start" fill="#111" >BCV</text>
<circle cx="582.8" cy="262.12" r="2.2" fill="none" stroke="#5fe045" stroke-width="0.8"/>
<text x="595.9" y="264.82" font-size="7.65" font-weight="normal" text-anchor="start" fill="#111" >BCV formate</text>
<circle cx="582.8" cy="273.26" r="2.2" fill="none" stroke="#c040f2" stroke-width="0.8"/>
<text x="595.9" y="275.96" font-size="7.65" font-weight="normal" text-anchor="start" fill="#111" >ODE-(S)-HPMPA formate</text>
<circle cx="582.8" cy="284.40" r="2.2" fill="none" stroke="#eb9e42" stroke-width="0.8"/>
<text x="595.9" y="287.09999999999997" font-size="7.65" font-weight="normal" text-anchor="start" fill="#111" >HDP-(S)-HPMPA formate</text>
</svg>
</body></html>
